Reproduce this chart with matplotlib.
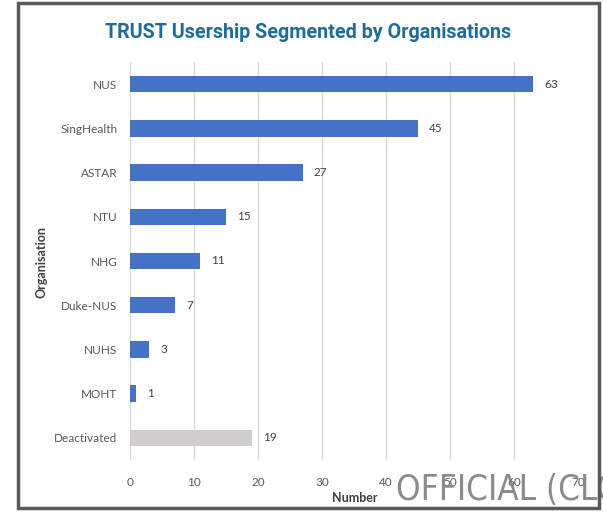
import matplotlib
matplotlib.use("Agg")
import matplotlib.pyplot as plt
from matplotlib.patches import Rectangle

categories = ["NUS", "SingHealth", "ASTAR", "NTU", "NHG", "Duke-NUS", "NUHS", "MOHT", "Deactivated"]
values = [63, 45, 27, 15, 11, 7, 3, 1, 19]
colors = ["#4472C4"] * 8 + ["#CFCDCD"]
xticks = [0, 10, 20, 30, 40, 50, 60, 70]

plt.rcParams['font.family'] = ['Lato', 'DejaVu Sans']

fig = plt.figure(figsize=(6.03, 5.12), dpi=100)
ax = fig.add_axes([130/603, 1 - 460/512, 448/603, 398/512])

y = list(range(len(categories)))
ax.barh(y, values, height=0.37, color=colors, zorder=3)
ax.set_ylim(len(categories) - 0.5, -0.5)
ax.set_xlim(0, 70)
ax.set_xticks(xticks)
ax.set_yticks(y)
ax.set_yticklabels(categories, fontsize=8.5, color="#595959")
ax.set_xticklabels([str(t) for t in xticks], fontsize=8.5, color="#595959")
ax.tick_params(axis='both', length=0)
ax.tick_params(axis='y', pad=9)
ax.tick_params(axis='x', pad=12)
ax.grid(axis='x', color="#D9D9D9", linewidth=1, zorder=0)
for s in ax.spines.values():
    s.set_visible(False)

for yi, v in zip(y, values):
    ax.annotate(str(v), (v, yi), xytext=(8, 0), textcoords='offset points',
                va='center', ha='left', fontsize=8.5, color="#404040")

fig.text(42/603, 1 - 262/512, "Organisation", rotation=90, ha='center', va='center',
         fontsize=9, fontweight='bold', color="#404040")
fig.text(355/603, 1 - 498/512, "Number", ha='center', va='center',
         fontsize=9, fontweight='bold', color="#404040")

fig.text(308/603, 1 - 32/512, "TRUST Usership Segmented by Organisations",
         ha='center', va='center', fontsize=14.2, fontweight='bold',
         color="#1F6B99", family=['Roboto', 'DejaVu Sans'])

fig.text(396/603, 1 - 500/512, "OFFICIAL (CLOSED)", ha='left', va='baseline',
         fontsize=25, color="#7F7F7F", alpha=0.9, stretch='condensed',
         family=['Liberation Sans Narrow', 'DejaVu Sans'])

fig.patches.append(Rectangle((18/603, 1 - 508/512), 581/603, 505/512,
                             transform=fig.transFigure, fill=False,
                             edgecolor="#595959", linewidth=2.5, zorder=10))

fig.savefig("out.png", dpi=100)
